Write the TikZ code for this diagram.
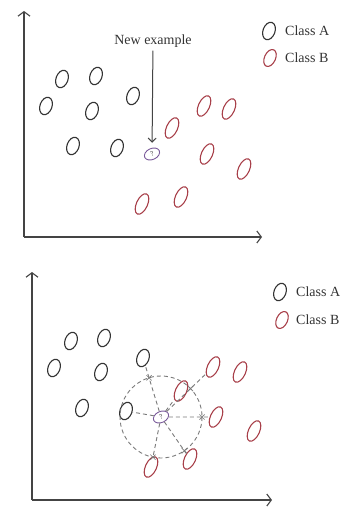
\documentclass[tikz,border=0pt]{standalone}
\usepackage{fontspec}
\setmainfont{Liberation Serif}
\usetikzlibrary{shapes.geometric,shapes.misc,arrows.meta,calc}
\definecolor{inkA}{HTML}{333333}
\definecolor{inkB}{HTML}{A8404A}
\definecolor{inkQ}{HTML}{7A5A9A}
\definecolor{axisc}{HTML}{444444}
\definecolor{dashc}{HTML}{7A7A7A}
\tikzset{
  clsA/.style={ellipse, draw=inkA, line width=1.1pt, minimum width=12pt, minimum height=18pt, inner sep=0pt, rotate=-20},
  clsB/.style={ellipse, draw=inkB, line width=1.1pt, minimum width=11pt, minimum height=22pt, inner sep=0pt, rotate=-25},
  newpt/.style={ellipse, draw=inkQ, line width=0.9pt, minimum width=16pt, minimum height=11pt, inner sep=0pt, rotate=25, font=\fontsize{7}{7}\selectfont, text=inkA},
  axisline/.style={draw=axisc, line width=1.1pt, -{Straight Barb[length=4.5pt,width=12pt]}},
  lbl/.style={anchor=west, text=inkA, font=\fontsize{14}{16}\selectfont, inner sep=0pt},
  dsh/.style={draw=dashc, line width=0.9pt, dash pattern=on 4pt off 3pt},
  tickx/.style={cross out, draw=dashc, line width=0.7pt, minimum size=4.5pt, inner sep=0pt}
}
\begin{document}
\begin{tikzpicture}[x=1pt,y=-1pt]
\useasboundingbox (0,0) rectangle (341,508);
% ---------- top panel ----------
\coordinate (o1) at (24,237);
\coordinate (y1) at (24,11);
\coordinate (x1) at (262,237);
\draw[axisline] (o1) -- (y1);
\draw[axisline] (o1) -- (x1);
% legend
\node[clsA] (la1) at (269,31) {};
\node[lbl] (ta1) at (285,31) {Class A};
\node[clsB, minimum height=18pt] (lb1) at (270,58) {};
\node[lbl] (tb1) at (285,58) {Class B};
% class A
\node[clsA] (a11) at (62,79) {};
\node[clsA] (a12) at (96,76) {};
\node[clsA] (a13) at (46,106) {};
\node[clsA] (a14) at (92,111) {};
\node[clsA] (a15) at (133,96) {};
\node[clsA] (a16) at (73,146) {};
\node[clsA] (a17) at (117,148) {};
% class B
\node[clsB] (b11) at (172,128) {};
\node[clsB] (b12) at (204,106) {};
\node[clsB] (b13) at (229,109) {};
\node[clsB] (b14) at (207,154) {};
\node[clsB] (b15) at (244,169) {};
\node[clsB] (b16) at (142,204) {};
\node[clsB] (b17) at (181,197) {};
% new example
\node[newpt] (q1) at (152,154) {?};
\node[text=inkA, font=\fontsize{14}{16}\selectfont, inner sep=0pt] (ne) at (153,41) {New example};
\draw[draw=axisc, line width=1pt, -{Straight Barb[length=4pt,width=8pt]}, shorten <=3pt, shorten >=5pt] (ne) -- (q1);
% ---------- bottom panel ----------
\coordinate (o2) at (32,500);
\coordinate (y2) at (32,272);
\coordinate (x2) at (272,500);
\draw[axisline] (o2) -- (y2);
\draw[axisline] (o2) -- (x2);
% legend
\node[clsA] (la2) at (280,292) {};
\node[lbl] (ta2) at (296,292) {Class A};
\node[clsB, minimum height=18pt] (lb2) at (282,320) {};
\node[lbl] (tb2) at (296,320) {Class B};
% class A
\node[clsA] (a21) at (71,341) {};
\node[clsA] (a22) at (104,338) {};
\node[clsA] (a23) at (54,368) {};
\node[clsA] (a24) at (101,372) {};
\node[clsA] (a25) at (143,358) {};
\node[clsA] (a26) at (82,408) {};
\node[clsA] (a27) at (126,411) {};
% class B
\node[clsB] (b21) at (181,391) {};
\node[clsB] (b22) at (213,367) {};
\node[clsB] (b23) at (240,372) {};
\node[clsB] (b24) at (216,417) {};
\node[clsB] (b25) at (254,431) {};
\node[clsB] (b26) at (151,467) {};
\node[clsB] (b27) at (190,459) {};
% new example
\node[newpt] (q2) at (161,417) {?};
\draw[dsh] (q2.center) circle[radius=41];
\foreach \t in {a25,a27,b21,b22,b24,b26,b27}{
  \draw[dsh] (q2) -- (\t);
}
\foreach \t in {a25,b22,b24,b26,b27}{
  \node[tickx] at ($(q2.center)!41pt!(\t.center)$) {};
}
\end{tikzpicture}
\end{document}
